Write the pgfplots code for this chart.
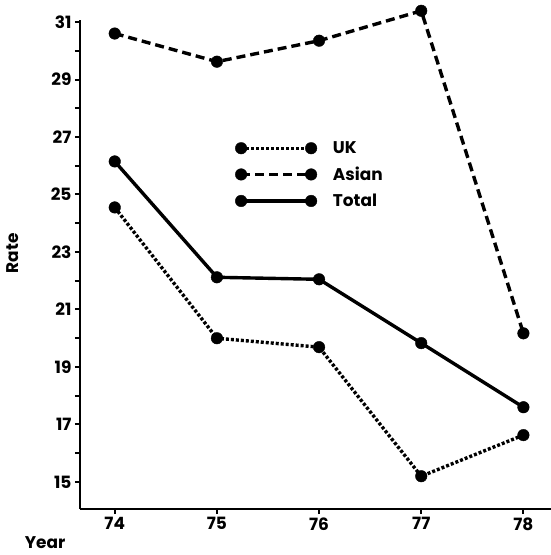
\documentclass[border=0pt]{standalone}
\usepackage{pgfplots}
\pgfplotsset{compat=1.18}
\usepackage{fontspec}
\setmainfont{Poppins}
\begin{document}
\begin{tikzpicture}
\begin{axis}[
  scale only axis, width=471bp, height=489bp,
  xmin=73.66, xmax=78.27, ymin=14.06, ymax=31.07,
  axis lines*=left,
  axis line style={line width=2.8bp},
  clip=false,
  xtick={74,75,76,77,78}, xticklabels={74,75,76,77,78},
  ytick={15,17,...,31}, minor ytick={16,18,...,30},
  tick align=outside, major tick length=5bp, minor tick length=5bp,
  every tick/.style={black, line width=2bp},
  tick label style={font=\fontsize{17}{17}\selectfont\bfseries},
  /pgf/number format/assume math mode=true,
  xlabel={Year}, ylabel={Rate},
  label style={font=\fontsize{17}{17}\selectfont\bfseries},
  xlabel style={at={(rel axis cs:-0.074,-0.068)}, anchor=center},
  ylabel style={at={(rel axis cs:-0.142,0.523)}, anchor=center, rotate=0},
  legend style={at={(rel axis cs:0.323,0.76)}, anchor=north west, draw=none, fill=none,
    font=\fontsize{17}{17}\selectfont\bfseries, row sep=8bp, column sep=14bp},
  legend cell align=left,
  legend image code/.code={\draw[#1] plot coordinates {(0bp,0bp) (70bp,0bp)};},
  every axis plot/.append style={black, mark=*, mark size=5.8bp, mark options={solid, line width=0.4bp}},
]
\addplot[line width=3.4bp, dash pattern=on 3bp off 2bp] coordinates {(74,24.55) (75,20.0) (76,19.69) (77,15.2) (78,16.63)};
\addlegendentry{UK}
\addplot[line width=3.4bp, dash pattern=on 9bp off 5bp] coordinates {(74,30.6) (75,29.62) (76,30.35) (77,31.39) (78,20.17)};
\addlegendentry{Asian}
\addplot[line width=3.4bp] coordinates {(74,26.15) (75,22.12) (76,22.05) (77,19.83) (78,17.6)};
\addlegendentry{Total}
\end{axis}
\pgfresetboundingbox
\path (current axis.south west) ++(-80bp,-46bp) rectangle ++(551bp,555bp);
\end{tikzpicture}
\end{document}
